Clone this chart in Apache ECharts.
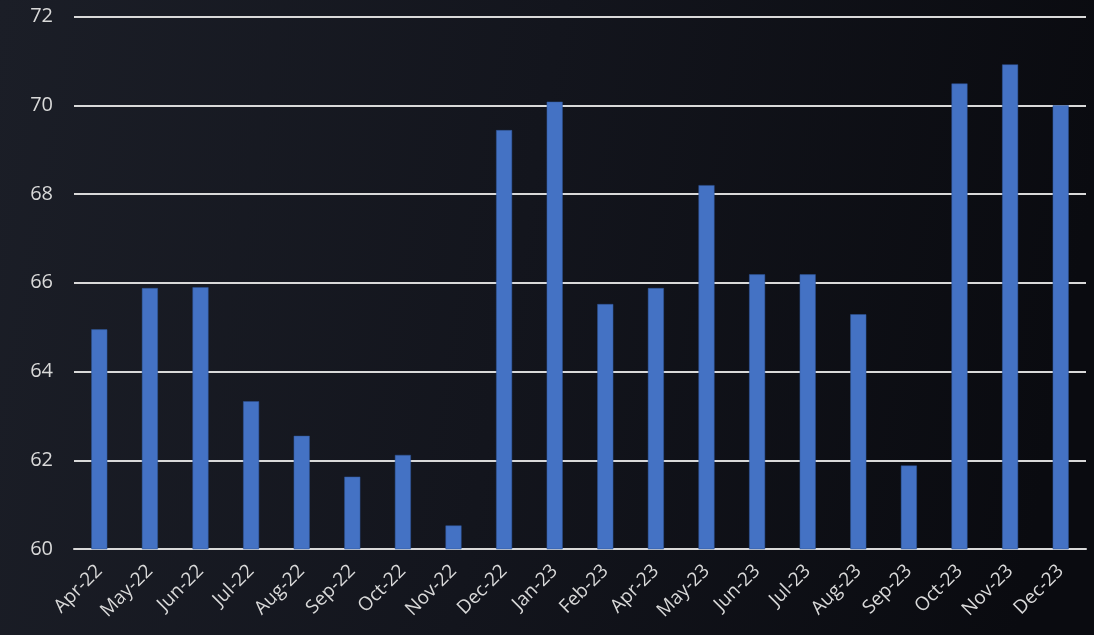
<!DOCTYPE html>
<html>
<head>
<meta charset="utf-8">
<style>
  html, body { margin: 0; padding: 0; width: 1094px; height: 635px; overflow: hidden; }
  #chart { width: 1094px; height: 635px; }
</style>
<script src="https://cdn.jsdelivr.net/npm/echarts@6/dist/echarts.min.js"></script>
</head>
<body>
<div id="chart"></div>
<script>
// Monthly index readings
const months = ['Apr-22','May-22','Jun-22','Jul-22','Aug-22','Sep-22','Oct-22','Nov-22','Dec-22','Jan-23',
                'Feb-23','Apr-23','May-23','Jun-23','Jul-23','Aug-23','Sep-23','Oct-23','Nov-23','Dec-23'];
const values = [64.95, 65.88, 65.9, 63.33, 62.55, 61.63, 62.12, 60.53, 69.44, 70.08,
                65.52, 65.88, 68.2, 66.19, 66.19, 65.29, 61.88, 70.49, 70.92, 70.0];
const yTicks = [60, 62, 64, 66, 68, 70, 72];

const chart = echarts.init(document.getElementById('chart'), null, { renderer: 'canvas' });
chart.setOption({
  backgroundColor: {
    type: 'linear', x: 0, y: 0, x2: 1, y2: 0.3,
    colorStops: [
      { offset: 0, color: '#1b1e27' },
      { offset: 0.5, color: '#13151d' },
      { offset: 1, color: '#0a0b10' }
    ]
  },
  animation: false,
  grid: { left: 74, right: 8, top: 16.5, bottom: 86, containLabel: false },
  xAxis: {
    type: 'category',
    data: months,
    axisTick: { show: false },
    axisLine: { show: true, lineStyle: { color: '#d9d9d9', width: 2 } },
    axisLabel: {
      interval: 0, rotate: 45, color: '#d9d9d9',
      fontFamily: 'Open Sans', fontSize: 19, margin: 19
    }
  },
  yAxis: {
    type: 'value',
    min: yTicks[0], max: yTicks[yTicks.length - 1], interval: 2,
    axisLine: { show: false },
    axisTick: { show: false },
    axisLabel: { color: '#d9d9d9', fontFamily: 'Open Sans', fontSize: 20, margin: 21 },
    splitLine: { lineStyle: { color: '#d9d9d9', width: 2 } }
  },
  series: [{
    type: 'bar',
    data: values,
    barWidth: 16,
    itemStyle: { color: '#4472c4', borderColor: '#2f5597', borderWidth: 0.5 }
  }]
});
</script>
</body>
</html>
